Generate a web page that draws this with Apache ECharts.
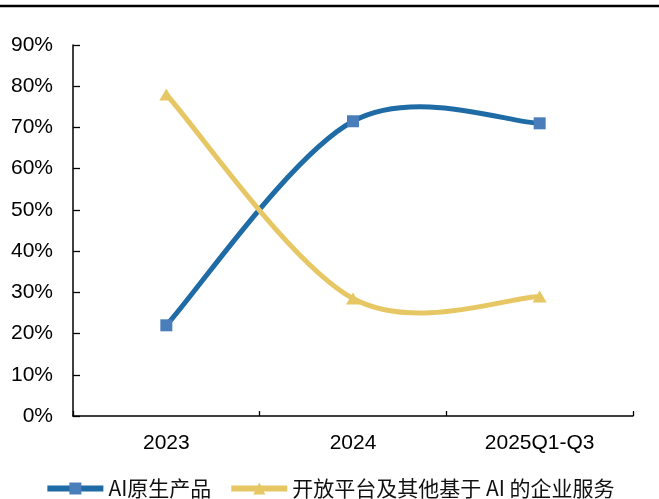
<!DOCTYPE html>
<html>
<head>
<meta charset="utf-8">
<script src="https://cdn.jsdelivr.net/npm/echarts@6/dist/echarts.min.js"></script>
<style>
html,body{margin:0;padding:0;background:#fff;}
#chart{width:659px;height:499px;}
</style>
</head>
<body>
<div id="chart"></div>
<script>
// Revenue mix by business line (share, %)
const categories = ['2023', '2024', '2025Q1-Q3'];
const aiNativeShare = [22, 71.5, 71];
const platformShare = [78, 28.5, 29];
const seriesNames = ['AI原生产品', '开放平台及其他基于 AI 的企业服务'];

const BLUE_LINE = '#1F6BA6';
const BLUE_MARK = '#4A7EBB';
const GOLD = '#E6C764';

// Smooth curve through the data points (cubic Bezier, 1/6 tangent rule),
// positioned with the chart's own axes via api.coord.
function smoothCurve(values, color) {
  return function (params, api) {
    const p = values.map((v, i) => api.coord([i, v]));
    const n = p.length;
    const at = (i) => p[Math.max(0, Math.min(n - 1, i))];
    let d = 'M' + p[0][0] + ' ' + p[0][1];
    for (let i = 0; i < n - 1; i++) {
      const p0 = at(i - 1), p1 = at(i), p2 = at(i + 1), p3 = at(i + 2);
      const c1 = [p1[0] + (p2[0] - p0[0]) / 6, p1[1] + (p2[1] - p0[1]) / 6];
      const c2 = [p2[0] - (p3[0] - p1[0]) / 6, p2[1] - (p3[1] - p1[1]) / 6];
      d += ' C' + c1[0] + ' ' + c1[1] + ' ' + c2[0] + ' ' + c2[1] + ' ' + p2[0] + ' ' + p2[1];
    }
    return {
      type: 'path',
      shape: { pathData: d },
      style: { fill: 'none', stroke: color, lineWidth: 5, lineJoin: 'round', lineCap: 'butt' }
    };
  };
}

const chart = echarts.init(document.getElementById('chart'));
chart.setOption({
  animation: false,
  backgroundColor: '#fff',
  grid: { left: 73, right: 26, top: 45, bottom: 83 },
  graphic: [{
    type: 'line',
    shape: { x1: 0, y1: 6, x2: 659, y2: 6 },
    style: { stroke: '#000', lineWidth: 2.5 }
  }],
  xAxis: {
    type: 'category',
    data: categories,
    boundaryGap: true,
    axisLine: { lineStyle: { color: '#000', width: 1.5 } },
    axisTick: { show: true, inside: true, length: 5, lineStyle: { color: '#000', width: 1.3 } },
    axisLabel: { color: '#000', fontSize: 21, fontFamily: 'Liberation Sans, Arial', margin: 17 }
  },
  yAxis: {
    type: 'value',
    min: 0, max: 90, interval: 10,
    axisLine: { show: true, lineStyle: { color: '#000', width: 1.5 } },
    axisTick: { show: true, inside: true, length: 7, lineStyle: { color: '#000', width: 1.3 } },
    splitLine: { show: false },
    axisLabel: { color: '#000', fontSize: 21, fontFamily: 'Liberation Sans, Arial', margin: 20, formatter: '{value}%' }
  },
  legend: {
    top: 473,
    left: 'center',
    itemWidth: 56,
    itemHeight: 15,
    itemGap: 17,
    textStyle: { color: '#111', fontSize: 21, fontFamily: 'Noto Sans CJK SC' },
    data: [
      { name: seriesNames[0], lineStyle: { color: BLUE_LINE, width: 6, opacity: 1 }, itemStyle: { color: BLUE_MARK } },
      { name: seriesNames[1], lineStyle: { color: GOLD, width: 6, opacity: 1 }, itemStyle: { color: GOLD } }
    ]
  },
  series: [
    {
      type: 'custom',
      coordinateSystem: 'cartesian2d',
      data: [[0, 0]],
      silent: true,
      z: 2,
      renderItem: smoothCurve(aiNativeShare, BLUE_LINE)
    },
    {
      type: 'custom',
      coordinateSystem: 'cartesian2d',
      data: [[0, 0]],
      silent: true,
      z: 2,
      renderItem: smoothCurve(platformShare, GOLD)
    },
    {
      name: seriesNames[0],
      type: 'line',
      data: aiNativeShare,
      z: 3,
      symbol: 'rect',
      symbolSize: 12,
      lineStyle: { color: BLUE_LINE, width: 0, opacity: 0 },
      itemStyle: { color: BLUE_MARK }
    },
    {
      name: seriesNames[1],
      type: 'line',
      data: platformShare,
      z: 3,
      symbol: 'triangle',
      symbolSize: [14, 12],
      lineStyle: { color: GOLD, width: 0, opacity: 0 },
      itemStyle: { color: GOLD }
    }
  ]
});
</script>
</body>
</html>
